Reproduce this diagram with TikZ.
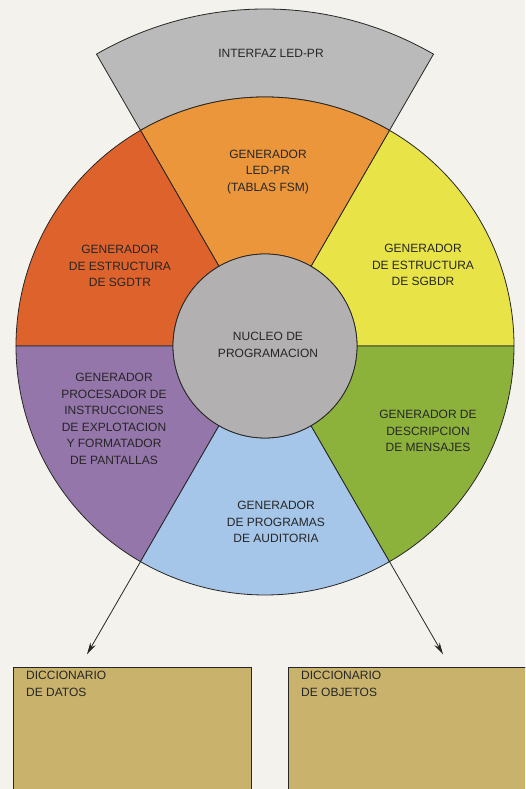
\documentclass[tikz,border=0pt]{standalone}
\usepackage{fontspec}
\setmainfont{Liberation Sans}
\usetikzlibrary{arrows.meta}
\definecolor{paper}{RGB}{244,242,236}
\definecolor{bandgrey}{RGB}{186,186,186}
\definecolor{coregrey}{RGB}{178,176,176}
\definecolor{segorange}{RGB}{236,150,60}
\definecolor{segred}{RGB}{222,98,44}
\definecolor{segyellow}{RGB}{232,228,72}
\definecolor{seggreen}{RGB}{140,178,60}
\definecolor{segblue}{RGB}{165,198,232}
\definecolor{segpurple}{RGB}{148,118,170}
\definecolor{dictfill}{RGB}{200,178,108}
\begin{document}
\begin{tikzpicture}[x=1pt,y=1pt,
  outline/.style={draw=black!85, line width=0.8pt},
  lbl/.style={align=center, inner sep=0pt, text=black!85,
    font=\fontsize{12}{16.5}\selectfont},
  dictlbl/.style={align=left, inner sep=0pt, anchor=north west, text=black!85,
    font=\fontsize{12}{16.5}\selectfont},
  dictbox/.style={outline, fill=dictfill},
  feed/.style={draw=black!85, line width=0.8pt, -{Stealth[length=12pt,width=6pt]}}]
\useasboundingbox (0,0) rectangle (525,789);
\fill[paper] (0,0) rectangle (525,789);

% dictionary boxes, running off the lower and right edges
\begin{scope}
  \clip (0,0) rectangle (525,789);
  \draw[dictbox] (13,-5) rectangle (251,122);
  \draw[dictbox] (288,-5) rectangle (540,122);
\end{scope}
\node[dictlbl] (datos) at (26,118) {DICCIONARIO\\DE DATOS};
\node[dictlbl] (objetos) at (301,118) {DICCIONARIO\\DE OBJETOS};

% wheel
\begin{scope}[shift={(265,443)}]
  \def\R{249}\def\r{92}\def\B{337}
  % outer band on top
  \filldraw[outline, fill=bandgrey]
    (60:\R) arc[start angle=60, end angle=120, radius=\R]
    -- (120:\B) arc[start angle=120, end angle=60, radius=\B] -- cycle;
  % six generator sectors
  \foreach \a/\c in {0/segyellow, 60/segorange, 120/segred,
                     180/segpurple, 240/segblue, 300/seggreen}{
    \pgfmathsetmacro\b{\a+60}
    \filldraw[outline, fill=\c]
      (\a:\r) -- (\a:\R) arc[start angle=\a, end angle=\b, radius=\R]
      -- (\b:\r) arc[start angle=\b, end angle=\a, radius=\r] -- cycle;
  }
  % programming core
  \filldraw[outline, fill=coregrey] (0,0) circle[radius=\r];
  % arrow ends
  \coordinate (outl) at (240:\R);
  \coordinate (tipl) at (240:356);
  \coordinate (outr) at (300:\R);
  \coordinate (tipr) at (300:356);
\end{scope}

\draw[feed] (outl) -- (tipl);
\draw[feed] (outr) -- (tipr);

% labels
\node[lbl] (interfaz) at (271,736) {INTERFAZ LED-PR};
\node[lbl] (ledpr) at (268,617) {GENERADOR\\LED-PR\\(TABLAS FSM)};
\node[lbl] (sgdtr) at (120,523) {GENERADOR\\DE ESTRUCTURA\\DE SGDTR};
\node[lbl] (sgbdr) at (423,524) {GENERADOR\\DE ESTRUCTURA\\DE SGBDR};
\node[lbl] (nucleo) at (268,444) {NUCLEO DE\\PROGRAMACION};
\node[lbl] (procesador) at (114,370)
  {GENERADOR\\PROCESADOR DE\\INSTRUCCIONES\\DE EXPLOTACION\\Y FORMATADOR\\DE PANTALLAS};
\node[lbl] (mensajes) at (428,358) {GENERADOR DE\\DESCRIPCION\\DE MENSAJES};
\node[lbl] (auditoria) at (276,267) {GENERADOR\\DE PROGRAMAS\\DE AUDITORIA};
\end{tikzpicture}
\end{document}
